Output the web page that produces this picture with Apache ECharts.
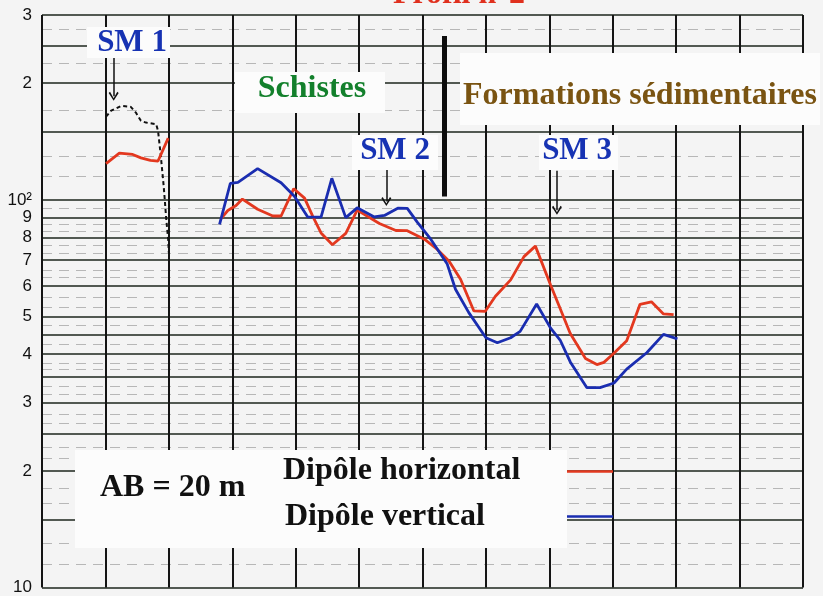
<!DOCTYPE html>
<html><head><meta charset="utf-8">
<script src="https://cdn.jsdelivr.net/npm/echarts@6/dist/echarts.min.js"></script>
<style>html,body{margin:0;padding:0;background:#f4f4f4}#c{width:823px;height:596px}</style>
</head><body><div id="c"></div>
<script>
// ---- data (x = grid column position along profile, y = apparent resistivity, log scale) ----
const redSM1X = [1.01, 1.22, 1.43, 1.56, 1.71, 1.83, 1.99];
const redSM1Vals = [124, 132, 131, 128.4, 126.5, 126, 144.3];

const dashX = [1.01, 1.09, 1.25, 1.40, 1.48, 1.56, 1.64, 1.80, 1.83, 1.87, 1.92, 1.96, 1.99, 2.00];
const dashVals = [164, 170, 174.8, 173.8, 168, 160, 158.3, 156.8, 150.7, 131.5, 108.1, 88.9, 79.1, 73.1];

const redX = [2.82,2.93,3.06,3.16,3.40,3.64,3.77,3.97,4.14,4.27,4.40,4.58,4.79,4.97,5.32,5.58,5.76,6.03,6.23,6.42,6.60,6.81,6.99,7.15,7.39,7.60,7.78,8.02,8.33,8.57,8.75,8.86,9.01,9.22,9.43,9.61,9.80,9.96];
const redVals = [89.4,93.9,96.7,100.5,94.6,90.9,90.9,106.9,101.1,90.7,82.2,76.6,82.0,94.1,86.9,83.4,83.3,79.2,74.6,69.5,62.4,51.7,51.6,56.4,62.2,71.4,76.0,60.3,45.2,39.0,37.6,38.1,40.1,43.3,53.8,54.6,50.8,50.6];

const blueX = [2.80,2.97,3.09,3.40,3.77,3.98,4.19,4.40,4.57,4.79,4.97,5.24,5.40,5.61,5.76,5.92,6.13,6.39,6.52,6.73,7.00,7.18,7.39,7.54,7.80,8.02,8.17,8.33,8.59,8.80,9.02,9.22,9.54,9.80,10.02];
const blueVals = [86.5,110.4,111.0,120.4,110.7,102.2,90.4,90.3,113.7,90.0,95.4,90.4,91.2,95.2,95.1,87.5,79.2,68.3,58.8,51.2,44.1,42.8,44.1,45.8,53.9,46.7,43.5,38.2,32.8,32.8,33.7,36.6,40.4,45.0,43.8];

const yLabelValues = [10,20,30,40,50,60,70,80,90,100,200,300];
const yLabelTexts  = ['10','2','3','4','5','6','7','8','9','10\u00B2','2','3'];
const yGridValues  = [10,15,20,25,30,35,40,45,50,60,70,80,90,100,150,200,250,300];
const yMinorValues = [11.5,13,16.5,18,21.5,23,26.5,28,31.5,33,36.5,38,42.5,47.5,53,56,63,66,73,76.5,83,86.5,95,115,130,170,225,275];

// annotations in data coordinates: [x, yFrom, yTo]
const smArrows = [[1.13, 237, 185], [5.43, 120, 99], [8.12, 119, 94]];
const boundary = [6.35, 265, 102];

const zip = (a, b) => a.map((v, i) => [v, b[i]]);
const serif = '"Liberation Serif", "Times New Roman", serif';
const chevron = 'path://M5,0 L10,8 L8.6,9.2 L5,2.6 L1.4,9.2 L0,8 Z';

const chart = echarts.init(document.getElementById('c'), null, {renderer: 'canvas'});

const txt = (text, x, y, size, color, align) => ({
  type: 'text', z: 101,
  style: {text, x, y, align: align || 'center', verticalAlign: 'middle', font: 'bold ' + size + 'px ' + serif, fill: color}
});
const box = (x, y, w, h) => ({type: 'rect', z: 100, shape: {x, y, width: w, height: h}, style: {fill: '#fcfcfc'}});

chart.setOption({
  animation: false,
  backgroundColor: '#f4f4f4',
  grid: {left: 42, right: 20, top: 15, bottom: 5, containLabel: false},
  xAxis: {
    type: 'value', min: 0, max: 12, interval: 1,
    axisLine: {show: false}, axisTick: {show: false}, axisLabel: {show: false},
    splitLine: {show: true, lineStyle: {color: '#141414', width: 2}}
  },
  yAxis: [{
    type: 'log', logBase: 10, min: 10, max: 300,
    axisLine: {show: false},
    axisTick: {show: false, customValues: yGridValues},
    axisLabel: {
      show: true, customValues: yLabelValues, margin: 10,
      color: '#111', fontSize: 17, fontFamily: '"Liberation Sans", Arial, sans-serif',
      formatter: v => { const i = yLabelValues.indexOf(Math.round(v)); return i >= 0 ? yLabelTexts[i] : ''; }
    },
    splitLine: {show: true, lineStyle: {color: '#1c261c', width: 1.6}}
  }, {
    type: 'log', logBase: 10, min: 10, max: 300, position: 'left',
    axisLine: {show: false}, axisLabel: {show: false},
    axisTick: {show: false, customValues: yMinorValues},
    splitLine: {show: true, lineStyle: {color: 'rgba(70,70,70,0.35)', width: 1, type: [10, 7]}}
  }],
  series: [
    {
      type: 'line', name: 'SM1 dashed', data: zip(dashX, dashVals), symbol: 'none', silent: true,
      lineStyle: {color: '#111', width: 2, type: [4, 3]}
    },
    {
      type: 'line', name: 'Dipôle horizontal SM1', data: zip(redSM1X, redSM1Vals), symbol: 'none', silent: true,
      lineStyle: {color: '#e3381f', width: 2.8}
    },
    {
      type: 'line', name: 'Dipôle horizontal', data: zip(redX, redVals), symbol: 'none', silent: true,
      lineStyle: {color: '#e3381f', width: 2.8}
    },
    {
      type: 'line', name: 'Dipôle vertical', data: zip(blueX, blueVals), symbol: 'none', silent: true,
      lineStyle: {color: '#1a2db0', width: 2.8},
      markLine: {
        silent: true, animation: false,
        label: {show: false},
        emphasis: {disabled: true},
        data: [
          ...smArrows.map(a => [
            {coord: [a[0], a[1]], symbol: 'none', lineStyle: {color: '#111', width: 1.5, type: 'solid'}},
            {coord: [a[0], a[2]], symbol: chevron, symbolSize: [10, 9]}
          ]),
          [
            {coord: [boundary[0], boundary[1]], symbol: 'none', lineStyle: {color: '#0d0d0d', width: 5, type: 'solid'}},
            {coord: [boundary[0], boundary[2]], symbol: 'none'}
          ]
        ]
      }
    }
  ],
  graphic: [
    txt('Profil n°2', 459, -5, 32, '#e0301e'),
    box(87, 27, 83, 31),
    txt('SM 1', 132, 42.5, 31, '#1733b3'),
    box(235, 72, 150, 41),
    txt('Schistes', 312, 89, 32, '#13802c'),
    box(460, 53, 360, 72),
    txt('Formations sédimentaires', 640, 96, 32, '#7a5412'),
    box(352, 135, 86, 35),
    txt('SM 2', 395, 151, 31, '#1733b3'),
    box(539, 135, 79, 35),
    txt('SM 3', 577, 151, 31, '#1733b3'),
    box(75, 450, 492, 98),
    txt('AB = 20 m', 100, 488, 32, '#111', 'left'),
    txt('Dipôle horizontal', 283, 471, 32, '#111', 'left'),
    txt('Dipôle vertical', 285, 517, 32, '#111', 'left'),
    {type: 'line', z: 101, shape: {x1: 567, y1: 471.5, x2: 613, y2: 471.5}, style: {stroke: '#e3381f', lineWidth: 2.5}},
    {type: 'line', z: 101, shape: {x1: 567, y1: 516.5, x2: 613, y2: 516.5}, style: {stroke: '#1a2db0', lineWidth: 2.5}}
  ]
});
</script>
</body></html>
